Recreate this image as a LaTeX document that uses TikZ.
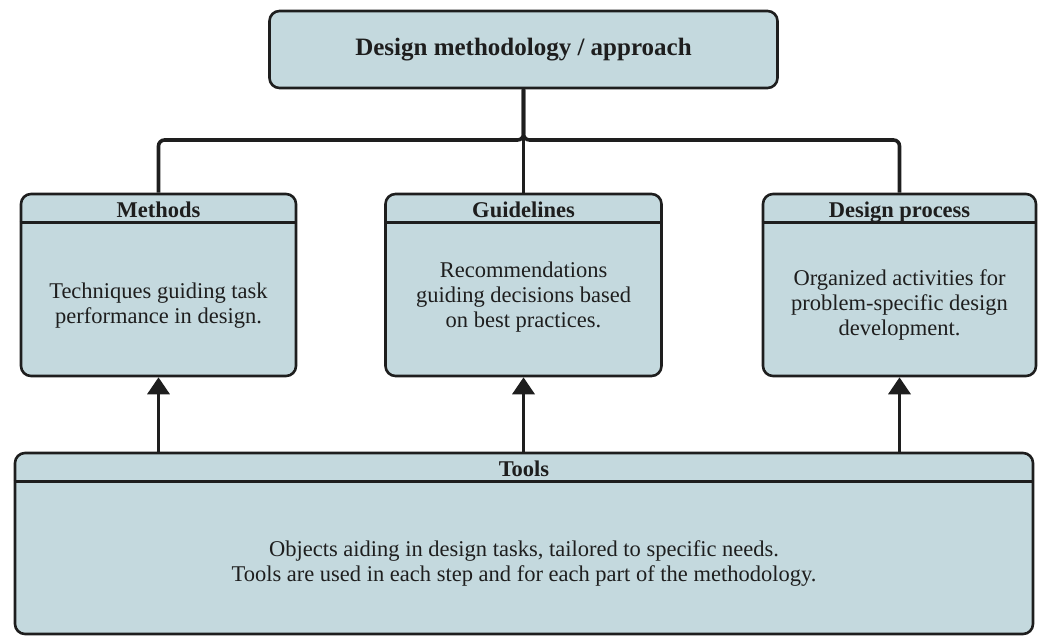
\documentclass[tikz,border=0pt]{standalone}
\usepackage{fontspec}
\setmainfont{Liberation Serif}
\usepackage{xcolor}
\usepackage{tikz}
\usetikzlibrary{arrows.meta,positioning}

\definecolor{boxfill}{RGB}{196,217,222}
\definecolor{linec}{RGB}{30,30,30}

\begin{document}
\begin{tikzpicture}[x=1pt,y=-1pt,
  box/.style={draw=linec, line width=2.6pt, fill=boxfill, rounded corners=10pt, inner sep=0pt},
  head/.style={font=\bfseries\fontsize{22.5}{25}\selectfont, text=linec, anchor=base},
  body/.style={font=\fontsize{22.5}{25}\selectfont, text=linec, align=center},
  conn/.style={draw=linec, line width=3.6pt},
  arr/.style={conn, -{Triangle[length=17pt,width=22pt]}}]
\useasboundingbox (0,0) rectangle (1046,635);
% top box
\node[box, minimum width=508pt, minimum height=77pt, font=\bfseries\fontsize{25}{28}\selectfont, text=linec] (top) at (523.5,49.5) {Design methodology / approach};
% three middle boxes
\node[box, minimum width=275pt, minimum height=182pt] (methods) at (158.5,285) {};
\node[box, minimum width=276pt, minimum height=182pt] (guide) at (523.5,285) {};
\node[box, minimum width=273pt, minimum height=182pt] (process) at (899.5,285) {};
\foreach \n/\t in {methods/Methods,guide/Guidelines,process/Design process} {
  \draw[linec, line width=2.6pt] ([yshift=-30pt]\n.north west) -- ([yshift=-30pt]\n.north east);
  \node[head] (\n-h) at ([yshift=-25pt]\n.north) {\t};
}
\node[body] (methods-b) at ([yshift=-21pt]methods.center) {Techniques guiding task\\performance in design.};
\node[body] (guide-b) at ([yshift=-12pt]guide.center) {Recommendations\\guiding decisions based\\on best practices.};
\node[body] (process-b) at ([yshift=-20pt]process.center) {Organized activities for\\problem-specific design\\development.};
% bottom box
\node[box, minimum width=1018pt, minimum height=181pt] (tools) at (524,543.5) {};
\draw[linec, line width=2.6pt] ([yshift=-30pt]tools.north west) -- ([yshift=-30pt]tools.north east);
\node[head] (tools-h) at ([yshift=-25pt]tools.north) {Tools};
\node[body] (tools-b) at ([yshift=-20pt]tools.center) {Objects aiding in design tasks, tailored to specific needs.\\Tools are used in each step and for each part of the methodology.};
% connectors
\coordinate (hub) at (523.5,140);
\draw[conn] (top.south) -- (guide.north);
\draw[conn, rounded corners=6pt] (top.south) |- (methods.north |- hub) -- (methods.north);
\draw[conn, rounded corners=6pt] (top.south) |- (process.north |- hub) -- (process.north);
\foreach \n in {methods,guide,process}
  \draw[arr] (tools.north -| \n.south) -- (\n.south);
\end{tikzpicture}
\end{document}
